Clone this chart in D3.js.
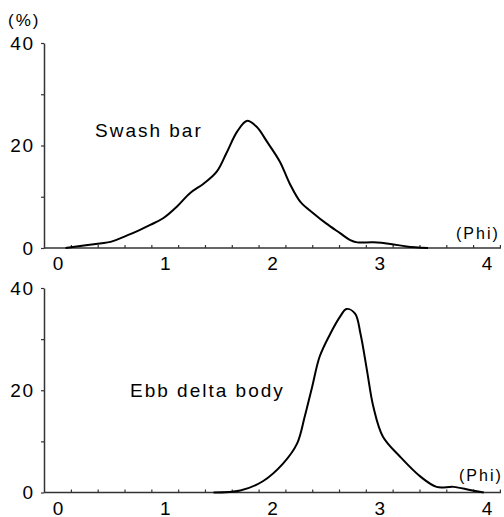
<!DOCTYPE html>
<html>
<head>
<meta charset="utf-8">
<script src="https://cdn.jsdelivr.net/npm/d3@7"></script>
<style>
  body { margin: 0; background: #fff; }
  svg text { font-family: "Liberation Sans", Arial, sans-serif; fill: #000; }
</style>
</head>
<body>
<div id="chart"></div>
<script>
// grain size curves, phi vs percent

// swash bar (top panel)
const swashPhi = [0.07, 0.39, 0.49, 0.65, 0.76, 0.86, 0.98, 1.11, 1.23, 1.36, 1.48, 1.57, 1.67, 1.76, 1.85, 1.95, 2.07, 2.16, 2.26, 2.38, 2.5, 2.63, 2.72, 2.79, 2.94, 3.1, 3.25, 3.45];
const swashPct = [0, 0.9, 1.2, 2.5, 3.5, 4.5, 5.8, 8.1, 10.7, 12.6, 14.9, 18.5, 22.7, 24.8, 23.7, 20.7, 16.8, 12.6, 9.0, 6.8, 4.8, 2.9, 1.6, 1.1, 1.1, 0.8, 0.3, 0];

// ebb delta body (bottom panel)
const ebbPhi = [1.45, 1.7, 1.91, 2.1, 2.23, 2.3, 2.37, 2.44, 2.54, 2.63, 2.69, 2.77, 2.82, 2.88, 2.94, 3.03, 3.19, 3.38, 3.53, 3.69, 3.84, 3.97];
const ebbPct = [0, 0.4, 2.2, 5.7, 9.6, 14.8, 20.7, 26.6, 31.1, 34.4, 35.9, 35.0, 31.1, 24.0, 16.8, 10.9, 7.0, 3.1, 1.1, 1.1, 0.5, 0];

// ticks
const xLabels = [0, 1, 2, 3, 4];
const xMinorTicks = d3.range(17).map(i => 0.125 + i * 0.25);
const yTicks = [0, 10, 20, 30, 40];
const yLabels = [0, 20, 40];

const W = 504, H = 517;
const svg = d3.select('#chart').append('svg')
    .attr('width', W)
    .attr('height', H);

const x = d3.scaleLinear().domain([0, 4]).range([58, 487]);
const axisLeftX = 44;
const axisRightPhi = 4.13;
const axisColor = '#333';

function drawPanel(phi, pct, yBottom, yTop, label, labelPos, phiLabelPos) {
    const y = d3.scaleLinear().domain([0, 40]).range([yBottom, yTop]);
    const g = svg.append('g');

    // y axis
    const yAxis = g.append('g')
        .attr('transform', `translate(${axisLeftX},0)`)
        .call(d3.axisLeft(y).tickValues(yTicks).tickSizeOuter(0).tickSizeInner(3).tickPadding(8)
            .tickFormat(d => yLabels.includes(d) ? d : ''));
    yAxis.select('.domain').attr('stroke', axisColor).attr('stroke-width', 1.5);
    yAxis.selectAll('.tick line').attr('stroke', axisColor).attr('stroke-width', 1.2);
    yAxis.selectAll('.tick text')
        .attr('font-size', 19)
        .attr('letter-spacing', 1.5)
        .attr('dx', 1.5)
        .style('font-family', '"Liberation Sans", Arial, sans-serif');

    // x axis line
    g.append('line')
        .attr('x1', axisLeftX).attr('x2', x(axisRightPhi))
        .attr('y1', yBottom).attr('y2', yBottom)
        .attr('stroke', axisColor).attr('stroke-width', 1.5);

    // x minor ticks (pointing up)
    g.selectAll('.xtick')
        .data(xMinorTicks)
        .join('line')
        .attr('class', 'xtick')
        .attr('x1', d => x(d)).attr('x2', d => x(d))
        .attr('y1', yBottom).attr('y2', yBottom - 3)
        .attr('stroke', axisColor).attr('stroke-width', 1.2);

    // x labels
    g.selectAll('.xlabel')
        .data(xLabels)
        .join('text')
        .attr('class', 'xlabel')
        .attr('x', d => x(d))
        .attr('y', yBottom + 22)
        .attr('text-anchor', 'middle')
        .attr('font-size', 19)
        .text(d => d);

    // curve
    const line = d3.line()
        .x(d => x(d[0]))
        .y(d => y(d[1]))
        .curve(d3.curveCatmullRom.alpha(0.5));
    g.append('path')
        .datum(d3.zip(phi, pct))
        .attr('fill', 'none')
        .attr('stroke', '#000')
        .attr('stroke-width', 2)
        .attr('d', line);

    // sample label
    g.append('text')
        .attr('x', labelPos[0])
        .attr('y', labelPos[1])
        .attr('font-size', 19)
        .attr('letter-spacing', 2)
        .text(label);

    // (Phi)
    g.append('text')
        .attr('x', phiLabelPos[0])
        .attr('y', phiLabelPos[1])
        .attr('font-size', 16)
        .attr('letter-spacing', 2)
        .text('(Phi)');
}

drawPanel(swashPhi, swashPct, 248, 43, 'Swash bar', [95, 137], [456, 239]);
drawPanel(ebbPhi, ebbPct, 492.5, 288, 'Ebb delta body', [130, 397], [459, 481]);

// units on top
svg.append('text')
    .attr('x', 8)
    .attr('y', 26)
    .attr('font-size', 17)
    .attr('letter-spacing', 2)
    .text('(%)');
</script>
</body>
</html>
